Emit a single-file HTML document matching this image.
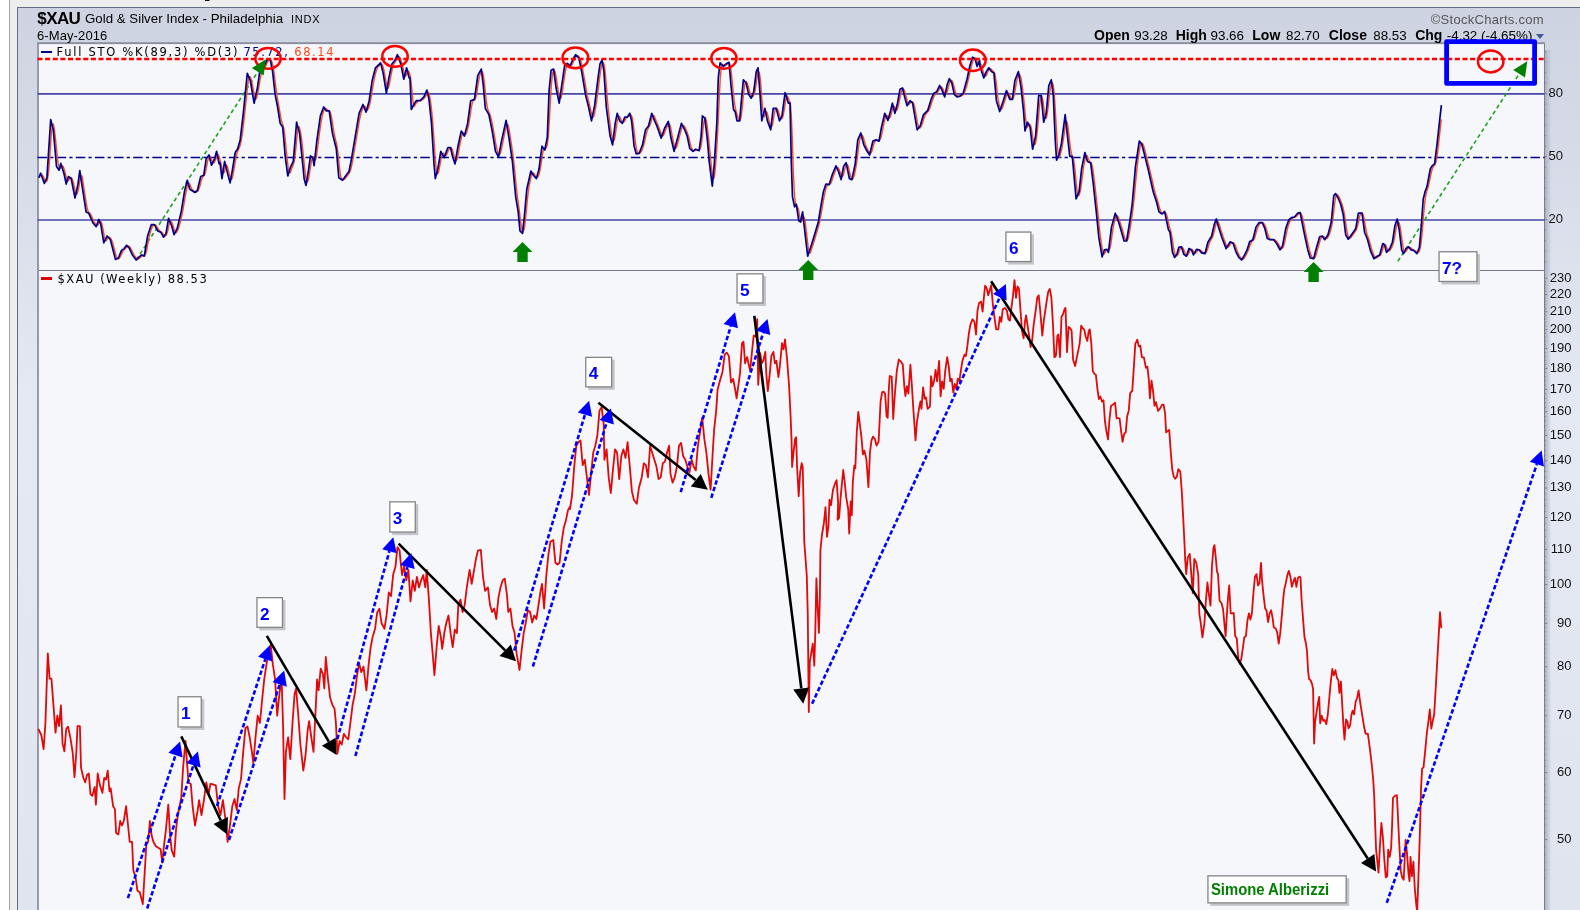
<!DOCTYPE html>
<html><head><meta charset="utf-8"><title>$XAU Gold &amp; Silver Index</title>
<style>
html,body{margin:0;padding:0;background:#fff}
body{width:1580px;height:910px;overflow:hidden;position:relative;font-family:"Liberation Sans",sans-serif;color:#000}
#c{position:absolute;left:0;top:0;width:1580px;height:910px;overflow:hidden;will-change:transform}
.t{position:absolute;white-space:nowrap;line-height:1}
.bx{position:absolute;box-sizing:border-box;background:#fff;border:1px solid #8a8a8a;box-shadow:2.5px 2.5px 0 #c2c3c8;color:#0000ff;font-weight:bold;font-size:17px;line-height:1;padding:5px 0 0 4px}
.ax{position:absolute;right:8.5px;width:40px;text-align:right;font-size:13px;color:#1a1a1a;line-height:15px;height:15px;color:#111}
.dj{font-family:"DejaVu Sans","Liberation Sans",sans-serif}
b{font-weight:bold}
.o{top:28px}
.o.b{font-weight:bold;font-size:14px}
.o.v{font-size:13.4px;top:28.5px}
</style></head><body><div id="c">
<svg width="1580" height="910" viewBox="0 0 1580 910" style="position:absolute;left:0;top:0">
<defs>
<linearGradient id="bg" x1="0" y1="0" x2="0" y2="1"><stop offset="0" stop-color="#cdd3e0"/><stop offset="0.43" stop-color="#e5e9f3"/><stop offset="1" stop-color="#e0e4ef"/></linearGradient>
<linearGradient id="sh" x1="0" y1="0" x2="1" y2="0"><stop offset="0" stop-color="#9ea3b6" stop-opacity=".75"/><stop offset="1" stop-color="#9ea3b6" stop-opacity="0"/></linearGradient>
<clipPath id="cp"><rect x="37.5" y="43" width="1506.8" height="870"/></clipPath>
</defs>
<rect x="0" y="0" width="1580" height="910" fill="#fff"/>
<rect x="10" y="0" width="1570" height="910" fill="#eeeeee"/>
<rect x="9" y="0" width="1" height="910" fill="#a3a3a3"/>
<rect x="205" y="0" width="4.5" height="1" fill="#111"/>
<rect x="17.5" y="7.5" width="1570" height="920" fill="url(#bg)" stroke="#666c82" stroke-width="1"/>
<rect x="1545.0" y="50" width="6.5" height="870" fill="url(#sh)"/>
<rect x="37.5" y="43.5" width="1507.0" height="900" fill="#f5f7fb" stroke="#7a7f92" stroke-width="1"/>
<line x1="37.5" y1="270.5" x2="1544.5" y2="270.5" stroke="#74788a" stroke-width="1.2"/>
<rect x="37" y="43" width="2" height="870" fill="#9699ab"/>
<rect x="37" y="42.2" width="1508" height="1.9" fill="#8b8e9f"/>
<line x1="1544.5" y1="261.7" x2="1545.9" y2="261.7" stroke="#767b90" stroke-width="0.9"/>
<line x1="1544.5" y1="251.2" x2="1545.9" y2="251.2" stroke="#767b90" stroke-width="0.9"/>
<line x1="1544.5" y1="240.7" x2="1545.9" y2="240.7" stroke="#767b90" stroke-width="0.9"/>
<line x1="1544.5" y1="230.2" x2="1545.9" y2="230.2" stroke="#767b90" stroke-width="0.9"/>
<line x1="1544.5" y1="219.7" x2="1547.3" y2="219.7" stroke="#767b90" stroke-width="0.9"/>
<line x1="1544.5" y1="209.2" x2="1545.9" y2="209.2" stroke="#767b90" stroke-width="0.9"/>
<line x1="1544.5" y1="198.7" x2="1545.9" y2="198.7" stroke="#767b90" stroke-width="0.9"/>
<line x1="1544.5" y1="188.2" x2="1545.9" y2="188.2" stroke="#767b90" stroke-width="0.9"/>
<line x1="1544.5" y1="177.7" x2="1545.9" y2="177.7" stroke="#767b90" stroke-width="0.9"/>
<line x1="1544.5" y1="167.2" x2="1545.9" y2="167.2" stroke="#767b90" stroke-width="0.9"/>
<line x1="1544.5" y1="156.7" x2="1547.3" y2="156.7" stroke="#767b90" stroke-width="0.9"/>
<line x1="1544.5" y1="146.2" x2="1545.9" y2="146.2" stroke="#767b90" stroke-width="0.9"/>
<line x1="1544.5" y1="135.7" x2="1545.9" y2="135.7" stroke="#767b90" stroke-width="0.9"/>
<line x1="1544.5" y1="125.2" x2="1545.9" y2="125.2" stroke="#767b90" stroke-width="0.9"/>
<line x1="1544.5" y1="114.7" x2="1545.9" y2="114.7" stroke="#767b90" stroke-width="0.9"/>
<line x1="1544.5" y1="104.2" x2="1545.9" y2="104.2" stroke="#767b90" stroke-width="0.9"/>
<line x1="1544.5" y1="93.7" x2="1547.3" y2="93.7" stroke="#767b90" stroke-width="0.9"/>
<line x1="1544.5" y1="83.2" x2="1545.9" y2="83.2" stroke="#767b90" stroke-width="0.9"/>
<line x1="1544.5" y1="72.7" x2="1545.9" y2="72.7" stroke="#767b90" stroke-width="0.9"/>
<line x1="1544.5" y1="62.2" x2="1545.9" y2="62.2" stroke="#767b90" stroke-width="0.9"/>
<line x1="1544.5" y1="51.7" x2="1545.9" y2="51.7" stroke="#767b90" stroke-width="0.9"/>
<line x1="1544.5" y1="878.3" x2="1545.9" y2="878.3" stroke="#767b90" stroke-width="0.9"/>
<line x1="1544.5" y1="870.2" x2="1545.7" y2="870.2" stroke="#767b90" stroke-width="0.9"/>
<line x1="1544.5" y1="862.3" x2="1545.7" y2="862.3" stroke="#767b90" stroke-width="0.9"/>
<line x1="1544.5" y1="854.6" x2="1545.7" y2="854.6" stroke="#767b90" stroke-width="0.9"/>
<line x1="1544.5" y1="847.0" x2="1545.7" y2="847.0" stroke="#767b90" stroke-width="0.9"/>
<line x1="1544.5" y1="839.5" x2="1547.3" y2="839.5" stroke="#767b90" stroke-width="0.9"/>
<line x1="1544.5" y1="832.3" x2="1545.7" y2="832.3" stroke="#767b90" stroke-width="0.9"/>
<line x1="1544.5" y1="825.1" x2="1545.7" y2="825.1" stroke="#767b90" stroke-width="0.9"/>
<line x1="1544.5" y1="818.1" x2="1545.7" y2="818.1" stroke="#767b90" stroke-width="0.9"/>
<line x1="1544.5" y1="811.2" x2="1545.7" y2="811.2" stroke="#767b90" stroke-width="0.9"/>
<line x1="1544.5" y1="804.5" x2="1545.9" y2="804.5" stroke="#767b90" stroke-width="0.9"/>
<line x1="1544.5" y1="797.9" x2="1545.7" y2="797.9" stroke="#767b90" stroke-width="0.9"/>
<line x1="1544.5" y1="791.3" x2="1545.7" y2="791.3" stroke="#767b90" stroke-width="0.9"/>
<line x1="1544.5" y1="785.0" x2="1545.7" y2="785.0" stroke="#767b90" stroke-width="0.9"/>
<line x1="1544.5" y1="778.7" x2="1545.7" y2="778.7" stroke="#767b90" stroke-width="0.9"/>
<line x1="1544.5" y1="772.5" x2="1547.3" y2="772.5" stroke="#767b90" stroke-width="0.9"/>
<line x1="1544.5" y1="766.4" x2="1545.7" y2="766.4" stroke="#767b90" stroke-width="0.9"/>
<line x1="1544.5" y1="760.4" x2="1545.7" y2="760.4" stroke="#767b90" stroke-width="0.9"/>
<line x1="1544.5" y1="754.5" x2="1545.7" y2="754.5" stroke="#767b90" stroke-width="0.9"/>
<line x1="1544.5" y1="748.7" x2="1545.7" y2="748.7" stroke="#767b90" stroke-width="0.9"/>
<line x1="1544.5" y1="743.0" x2="1545.9" y2="743.0" stroke="#767b90" stroke-width="0.9"/>
<line x1="1544.5" y1="737.4" x2="1545.7" y2="737.4" stroke="#767b90" stroke-width="0.9"/>
<line x1="1544.5" y1="731.9" x2="1545.7" y2="731.9" stroke="#767b90" stroke-width="0.9"/>
<line x1="1544.5" y1="726.4" x2="1545.7" y2="726.4" stroke="#767b90" stroke-width="0.9"/>
<line x1="1544.5" y1="721.1" x2="1545.7" y2="721.1" stroke="#767b90" stroke-width="0.9"/>
<line x1="1544.5" y1="715.8" x2="1547.3" y2="715.8" stroke="#767b90" stroke-width="0.9"/>
<line x1="1544.5" y1="710.6" x2="1545.7" y2="710.6" stroke="#767b90" stroke-width="0.9"/>
<line x1="1544.5" y1="705.4" x2="1545.7" y2="705.4" stroke="#767b90" stroke-width="0.9"/>
<line x1="1544.5" y1="700.4" x2="1545.7" y2="700.4" stroke="#767b90" stroke-width="0.9"/>
<line x1="1544.5" y1="695.3" x2="1545.7" y2="695.3" stroke="#767b90" stroke-width="0.9"/>
<line x1="1544.5" y1="690.4" x2="1545.9" y2="690.4" stroke="#767b90" stroke-width="0.9"/>
<line x1="1544.5" y1="685.5" x2="1545.7" y2="685.5" stroke="#767b90" stroke-width="0.9"/>
<line x1="1544.5" y1="680.7" x2="1545.7" y2="680.7" stroke="#767b90" stroke-width="0.9"/>
<line x1="1544.5" y1="676.0" x2="1545.7" y2="676.0" stroke="#767b90" stroke-width="0.9"/>
<line x1="1544.5" y1="671.3" x2="1545.7" y2="671.3" stroke="#767b90" stroke-width="0.9"/>
<line x1="1544.5" y1="666.7" x2="1547.3" y2="666.7" stroke="#767b90" stroke-width="0.9"/>
<line x1="1544.5" y1="662.1" x2="1545.7" y2="662.1" stroke="#767b90" stroke-width="0.9"/>
<line x1="1544.5" y1="657.6" x2="1545.7" y2="657.6" stroke="#767b90" stroke-width="0.9"/>
<line x1="1544.5" y1="653.1" x2="1545.7" y2="653.1" stroke="#767b90" stroke-width="0.9"/>
<line x1="1544.5" y1="648.7" x2="1545.7" y2="648.7" stroke="#767b90" stroke-width="0.9"/>
<line x1="1544.5" y1="644.4" x2="1545.9" y2="644.4" stroke="#767b90" stroke-width="0.9"/>
<line x1="1544.5" y1="640.1" x2="1545.7" y2="640.1" stroke="#767b90" stroke-width="0.9"/>
<line x1="1544.5" y1="635.8" x2="1545.7" y2="635.8" stroke="#767b90" stroke-width="0.9"/>
<line x1="1544.5" y1="631.6" x2="1545.7" y2="631.6" stroke="#767b90" stroke-width="0.9"/>
<line x1="1544.5" y1="627.5" x2="1545.7" y2="627.5" stroke="#767b90" stroke-width="0.9"/>
<line x1="1544.5" y1="623.4" x2="1547.3" y2="623.4" stroke="#767b90" stroke-width="0.9"/>
<line x1="1544.5" y1="619.3" x2="1545.7" y2="619.3" stroke="#767b90" stroke-width="0.9"/>
<line x1="1544.5" y1="615.3" x2="1545.7" y2="615.3" stroke="#767b90" stroke-width="0.9"/>
<line x1="1544.5" y1="611.3" x2="1545.7" y2="611.3" stroke="#767b90" stroke-width="0.9"/>
<line x1="1544.5" y1="607.4" x2="1545.7" y2="607.4" stroke="#767b90" stroke-width="0.9"/>
<line x1="1544.5" y1="603.5" x2="1545.9" y2="603.5" stroke="#767b90" stroke-width="0.9"/>
<line x1="1544.5" y1="599.6" x2="1545.7" y2="599.6" stroke="#767b90" stroke-width="0.9"/>
<line x1="1544.5" y1="595.8" x2="1545.7" y2="595.8" stroke="#767b90" stroke-width="0.9"/>
<line x1="1544.5" y1="592.0" x2="1545.7" y2="592.0" stroke="#767b90" stroke-width="0.9"/>
<line x1="1544.5" y1="588.3" x2="1545.7" y2="588.3" stroke="#767b90" stroke-width="0.9"/>
<line x1="1544.5" y1="584.6" x2="1547.3" y2="584.6" stroke="#767b90" stroke-width="0.9"/>
<line x1="1544.5" y1="577.3" x2="1545.9" y2="577.3" stroke="#767b90" stroke-width="0.9"/>
<line x1="1544.5" y1="570.2" x2="1545.9" y2="570.2" stroke="#767b90" stroke-width="0.9"/>
<line x1="1544.5" y1="563.2" x2="1545.9" y2="563.2" stroke="#767b90" stroke-width="0.9"/>
<line x1="1544.5" y1="556.3" x2="1545.9" y2="556.3" stroke="#767b90" stroke-width="0.9"/>
<line x1="1544.5" y1="549.5" x2="1547.3" y2="549.5" stroke="#767b90" stroke-width="0.9"/>
<line x1="1544.5" y1="542.9" x2="1545.9" y2="542.9" stroke="#767b90" stroke-width="0.9"/>
<line x1="1544.5" y1="536.4" x2="1545.9" y2="536.4" stroke="#767b90" stroke-width="0.9"/>
<line x1="1544.5" y1="530.0" x2="1545.9" y2="530.0" stroke="#767b90" stroke-width="0.9"/>
<line x1="1544.5" y1="523.7" x2="1545.9" y2="523.7" stroke="#767b90" stroke-width="0.9"/>
<line x1="1544.5" y1="517.5" x2="1547.3" y2="517.5" stroke="#767b90" stroke-width="0.9"/>
<line x1="1544.5" y1="511.5" x2="1545.9" y2="511.5" stroke="#767b90" stroke-width="0.9"/>
<line x1="1544.5" y1="505.5" x2="1545.9" y2="505.5" stroke="#767b90" stroke-width="0.9"/>
<line x1="1544.5" y1="499.6" x2="1545.9" y2="499.6" stroke="#767b90" stroke-width="0.9"/>
<line x1="1544.5" y1="493.8" x2="1545.9" y2="493.8" stroke="#767b90" stroke-width="0.9"/>
<line x1="1544.5" y1="488.1" x2="1547.3" y2="488.1" stroke="#767b90" stroke-width="0.9"/>
<line x1="1544.5" y1="482.5" x2="1545.9" y2="482.5" stroke="#767b90" stroke-width="0.9"/>
<line x1="1544.5" y1="477.0" x2="1545.9" y2="477.0" stroke="#767b90" stroke-width="0.9"/>
<line x1="1544.5" y1="471.5" x2="1545.9" y2="471.5" stroke="#767b90" stroke-width="0.9"/>
<line x1="1544.5" y1="466.1" x2="1545.9" y2="466.1" stroke="#767b90" stroke-width="0.9"/>
<line x1="1544.5" y1="460.8" x2="1547.3" y2="460.8" stroke="#767b90" stroke-width="0.9"/>
<line x1="1544.5" y1="455.6" x2="1545.9" y2="455.6" stroke="#767b90" stroke-width="0.9"/>
<line x1="1544.5" y1="450.5" x2="1545.9" y2="450.5" stroke="#767b90" stroke-width="0.9"/>
<line x1="1544.5" y1="445.4" x2="1545.9" y2="445.4" stroke="#767b90" stroke-width="0.9"/>
<line x1="1544.5" y1="440.4" x2="1545.9" y2="440.4" stroke="#767b90" stroke-width="0.9"/>
<line x1="1544.5" y1="435.5" x2="1547.3" y2="435.5" stroke="#767b90" stroke-width="0.9"/>
<line x1="1544.5" y1="430.6" x2="1545.9" y2="430.6" stroke="#767b90" stroke-width="0.9"/>
<line x1="1544.5" y1="425.8" x2="1545.9" y2="425.8" stroke="#767b90" stroke-width="0.9"/>
<line x1="1544.5" y1="421.0" x2="1545.9" y2="421.0" stroke="#767b90" stroke-width="0.9"/>
<line x1="1544.5" y1="416.4" x2="1545.9" y2="416.4" stroke="#767b90" stroke-width="0.9"/>
<line x1="1544.5" y1="411.7" x2="1547.3" y2="411.7" stroke="#767b90" stroke-width="0.9"/>
<line x1="1544.5" y1="407.2" x2="1545.9" y2="407.2" stroke="#767b90" stroke-width="0.9"/>
<line x1="1544.5" y1="402.7" x2="1545.9" y2="402.7" stroke="#767b90" stroke-width="0.9"/>
<line x1="1544.5" y1="398.2" x2="1545.9" y2="398.2" stroke="#767b90" stroke-width="0.9"/>
<line x1="1544.5" y1="393.8" x2="1545.9" y2="393.8" stroke="#767b90" stroke-width="0.9"/>
<line x1="1544.5" y1="389.4" x2="1547.3" y2="389.4" stroke="#767b90" stroke-width="0.9"/>
<line x1="1544.5" y1="385.1" x2="1545.9" y2="385.1" stroke="#767b90" stroke-width="0.9"/>
<line x1="1544.5" y1="380.9" x2="1545.9" y2="380.9" stroke="#767b90" stroke-width="0.9"/>
<line x1="1544.5" y1="376.7" x2="1545.9" y2="376.7" stroke="#767b90" stroke-width="0.9"/>
<line x1="1544.5" y1="372.5" x2="1545.9" y2="372.5" stroke="#767b90" stroke-width="0.9"/>
<line x1="1544.5" y1="368.4" x2="1547.3" y2="368.4" stroke="#767b90" stroke-width="0.9"/>
<line x1="1544.5" y1="364.3" x2="1545.9" y2="364.3" stroke="#767b90" stroke-width="0.9"/>
<line x1="1544.5" y1="360.3" x2="1545.9" y2="360.3" stroke="#767b90" stroke-width="0.9"/>
<line x1="1544.5" y1="356.4" x2="1545.9" y2="356.4" stroke="#767b90" stroke-width="0.9"/>
<line x1="1544.5" y1="352.4" x2="1545.9" y2="352.4" stroke="#767b90" stroke-width="0.9"/>
<line x1="1544.5" y1="348.5" x2="1547.3" y2="348.5" stroke="#767b90" stroke-width="0.9"/>
<line x1="1544.5" y1="344.7" x2="1545.9" y2="344.7" stroke="#767b90" stroke-width="0.9"/>
<line x1="1544.5" y1="340.9" x2="1545.9" y2="340.9" stroke="#767b90" stroke-width="0.9"/>
<line x1="1544.5" y1="337.1" x2="1545.9" y2="337.1" stroke="#767b90" stroke-width="0.9"/>
<line x1="1544.5" y1="333.4" x2="1545.9" y2="333.4" stroke="#767b90" stroke-width="0.9"/>
<line x1="1544.5" y1="329.7" x2="1547.3" y2="329.7" stroke="#767b90" stroke-width="0.9"/>
<line x1="1544.5" y1="326.0" x2="1545.9" y2="326.0" stroke="#767b90" stroke-width="0.9"/>
<line x1="1544.5" y1="322.4" x2="1545.9" y2="322.4" stroke="#767b90" stroke-width="0.9"/>
<line x1="1544.5" y1="318.8" x2="1545.9" y2="318.8" stroke="#767b90" stroke-width="0.9"/>
<line x1="1544.5" y1="315.2" x2="1545.9" y2="315.2" stroke="#767b90" stroke-width="0.9"/>
<line x1="1544.5" y1="311.7" x2="1547.3" y2="311.7" stroke="#767b90" stroke-width="0.9"/>
<line x1="1544.5" y1="308.2" x2="1545.9" y2="308.2" stroke="#767b90" stroke-width="0.9"/>
<line x1="1544.5" y1="304.8" x2="1545.9" y2="304.8" stroke="#767b90" stroke-width="0.9"/>
<line x1="1544.5" y1="301.4" x2="1545.9" y2="301.4" stroke="#767b90" stroke-width="0.9"/>
<line x1="1544.5" y1="298.0" x2="1545.9" y2="298.0" stroke="#767b90" stroke-width="0.9"/>
<line x1="1544.5" y1="294.6" x2="1547.3" y2="294.6" stroke="#767b90" stroke-width="0.9"/>
<line x1="1544.5" y1="291.3" x2="1545.9" y2="291.3" stroke="#767b90" stroke-width="0.9"/>
<line x1="1544.5" y1="288.0" x2="1545.9" y2="288.0" stroke="#767b90" stroke-width="0.9"/>
<line x1="1544.5" y1="284.7" x2="1545.9" y2="284.7" stroke="#767b90" stroke-width="0.9"/>
<line x1="1544.5" y1="281.5" x2="1545.9" y2="281.5" stroke="#767b90" stroke-width="0.9"/>
<line x1="1544.5" y1="278.3" x2="1547.3" y2="278.3" stroke="#767b90" stroke-width="0.9"/>
<line x1="37.5" y1="93.9" x2="1544.5" y2="93.9" stroke="#4646a6" stroke-width="1.6"/>
<line x1="37.5" y1="220" x2="1544.5" y2="220" stroke="#4646a6" stroke-width="1.6"/>
<line x1="37.5" y1="157.5" x2="1544.5" y2="157.5" stroke="#00008b" stroke-width="1.4" stroke-dasharray="9.5 3.2 3.2 3.24"/>
<text id="l1" y="56.3" font-family="DejaVu Sans, Liberation Sans, sans-serif" font-size="11.5" fill="#000"><tspan x="56.5" letter-spacing="1.72">Full STO %K(89,3) %D(3)</tspan> <tspan x="243.4" letter-spacing="1.58" fill="#00008b">75.72,</tspan> <tspan x="294.3" letter-spacing="1.58" fill="#ff4a1a">68.14</tspan></text>
<text id="l2" x="57.5" y="283.1" font-family="DejaVu Sans, Liberation Sans, sans-serif" font-size="11.5" letter-spacing="1.5" fill="#000">$XAU (Weekly) 88.53</text>
<line x1="136.2" y1="260" x2="257.8" y2="71.8" stroke="#22a022" stroke-width="1.6" stroke-dasharray="4 3"/>
<line x1="1397.9" y1="261.2" x2="1519.2" y2="73.8" stroke="#22a022" stroke-width="1.6" stroke-dasharray="4 3"/>
<polyline points="39.3,177.8 40.3,175.2 41.3,173.7 42.3,175.1 43.3,176.4 44.3,179.1 45.3,181.1 46.3,181.5 47.3,180.3 48.3,174.1 49.3,163.6 50.3,148.7 51.3,134.0 52.3,125.8 53.3,123.9 54.3,129.1 55.3,136.8 56.3,147.0 57.3,157.4 58.3,164.5 59.3,168.3 60.3,168.5 61.3,166.9 62.3,165.8 63.3,166.6 64.3,169.8 65.3,173.4 66.3,177.5 67.3,180.5 68.3,180.9 69.3,179.1 70.3,177.6 71.3,177.5 72.3,179.2 73.3,182.2 74.3,186.8 75.3,191.9 76.3,194.4 77.3,193.6 78.3,189.7 79.3,184.3 80.3,178.0 81.3,175.4 82.3,177.3 83.3,183.9 84.3,190.5 85.3,197.0 86.3,203.5 87.3,208.6 88.3,211.7 89.3,212.8 90.3,213.9 91.3,215.7 92.3,217.9 93.3,220.2 94.3,222.2 95.3,223.8 96.3,225.1 97.3,225.4 98.3,224.5 99.3,222.2 100.3,221.3 101.3,222.1 102.3,225.8 103.3,230.7 104.3,236.7 105.3,240.1 106.3,240.7 107.3,238.7 108.3,237.4 109.3,237.1 110.3,237.9 111.3,239.4 112.3,241.8 113.3,245.1 114.3,249.0 115.3,252.9 116.3,256.3 117.3,258.3 118.3,258.9 119.3,258.1 120.3,256.8 121.3,254.7 122.3,252.4 123.3,250.6 124.3,249.5 125.3,248.7 126.3,247.6 127.3,246.5 128.3,246.1 129.3,246.5 130.3,247.8 131.3,249.4 132.3,251.5 133.3,253.5 134.3,255.3 135.3,256.8 136.3,258.1 137.3,259.0 138.3,259.1 139.3,258.3 140.3,257.4 141.3,256.5 142.3,255.7 143.3,255.3 144.3,255.4 145.3,254.8 146.3,252.0 147.3,247.0 148.3,241.1 149.3,236.2 150.3,232.4 151.3,229.4 152.3,226.8 153.3,225.2 154.3,224.6 155.3,224.9 156.3,225.7 157.3,227.3 158.3,229.1 159.3,230.5 160.3,231.4 161.3,231.9 162.3,232.8 163.3,234.2 164.3,235.6 165.3,236.0 166.3,235.2 167.3,232.6 168.3,228.5 169.3,223.5 170.3,221.0 171.3,221.3 172.3,223.9 173.3,226.8 174.3,230.1 175.3,232.3 176.3,232.7 177.3,231.2 178.3,228.8 179.3,225.6 180.3,221.8 181.3,217.7 182.3,213.1 183.3,207.9 184.3,202.1 185.3,196.0 186.3,190.7 187.3,186.1 188.3,183.5 189.3,183.3 190.3,185.6 191.3,188.2 192.3,189.8 193.3,190.5 194.3,191.1 195.3,191.8 196.3,192.0 197.3,191.7 198.3,190.5 199.3,188.0 200.3,184.5 201.3,180.4 202.3,177.6 203.3,176.1 204.3,175.5 205.3,172.8 206.3,168.0 207.3,162.5 208.3,158.7 209.3,156.6 210.3,156.7 211.3,158.6 212.3,161.7 213.3,163.1 214.3,162.5 215.3,160.3 216.3,157.6 217.3,154.9 218.3,154.7 219.3,157.3 220.3,160.9 221.3,164.8 222.3,169.6 223.3,173.1 224.3,172.3 225.3,167.4 226.3,165.0 227.3,166.2 228.3,170.2 229.3,174.1 230.3,178.0 231.3,179.6 232.3,178.1 233.3,173.4 234.3,167.5 235.3,161.4 236.3,156.0 237.3,152.2 238.3,150.0 239.3,147.7 240.3,144.8 241.3,140.3 242.3,134.1 243.3,126.2 244.3,117.4 245.3,108.1 246.3,98.3 247.3,88.4 248.3,80.4 249.3,76.6 250.3,77.0 251.3,79.9 252.3,84.1 253.3,89.5 254.3,95.4 255.3,98.9 256.3,98.9 257.3,95.4 258.3,90.4 259.3,84.7 260.3,78.1 261.3,72.9 262.3,69.9 263.3,69.0 264.3,68.1 265.3,66.7 266.3,64.8 267.3,62.5 268.3,60.8 269.3,59.8 270.3,59.5 271.3,60.4 272.3,63.1 273.3,67.8 274.3,74.5 275.3,82.5 276.3,90.7 277.3,97.5 278.3,103.1 279.3,108.6 280.3,114.6 281.3,119.9 282.3,123.7 283.3,126.2 284.3,131.4 285.3,140.0 286.3,150.8 287.3,160.3 288.3,168.4 289.3,172.4 290.3,172.7 291.3,169.6 292.3,166.9 293.3,164.5 294.3,160.8 295.3,153.8 296.3,143.6 297.3,132.7 298.3,127.1 299.3,126.8 300.3,131.0 301.3,137.1 302.3,145.2 303.3,155.0 304.3,165.0 305.3,173.7 306.3,180.3 307.3,182.1 308.3,179.9 309.3,174.3 310.3,167.8 311.3,161.6 312.3,157.9 313.3,156.8 314.3,159.4 315.3,160.3 316.3,157.8 317.3,150.2 318.3,141.8 319.3,134.1 320.3,127.1 321.3,120.7 322.3,115.7 323.3,112.1 324.3,109.6 325.3,108.4 326.3,108.7 327.3,109.9 328.3,110.6 329.3,110.8 330.3,112.2 331.3,115.9 332.3,121.9 333.3,128.5 334.3,134.1 335.3,138.8 336.3,142.7 337.3,148.0 338.3,155.8 339.3,166.2 340.3,174.1 341.3,178.5 342.3,179.1 343.3,179.6 344.3,179.4 345.3,178.5 346.3,177.1 347.3,175.7 348.3,174.4 349.3,173.1 350.3,170.8 351.3,167.2 352.3,162.3 353.3,156.8 354.3,151.0 355.3,145.1 356.3,139.1 357.3,133.1 358.3,127.1 359.3,121.1 360.3,116.0 361.3,112.0 362.3,109.4 363.3,107.0 364.3,106.1 365.3,106.8 366.3,109.0 367.3,110.0 368.3,108.9 369.3,105.8 370.3,101.6 371.3,96.3 372.3,89.9 373.3,83.8 374.3,78.6 375.3,74.3 376.3,70.8 377.3,68.2 378.3,66.5 379.3,65.5 380.3,64.6 381.3,63.9 382.3,64.9 383.3,67.6 384.3,72.2 385.3,77.4 386.3,83.3 387.3,87.8 388.3,88.2 389.3,84.6 390.3,78.9 391.3,73.8 392.3,69.1 393.3,65.5 394.3,63.0 395.3,61.7 396.3,60.2 397.3,58.4 398.3,56.7 399.3,56.7 400.3,58.4 401.3,61.2 402.3,64.7 403.3,69.1 404.3,74.1 405.3,76.2 406.3,75.1 407.3,71.6 408.3,70.8 409.3,72.6 410.3,75.7 411.3,84.0 412.3,94.6 413.3,104.1 414.3,106.5 415.3,104.7 416.3,103.0 417.3,101.7 418.3,101.0 419.3,100.7 420.3,100.7 421.3,100.5 422.3,99.9 423.3,99.0 424.3,98.0 425.3,96.6 426.3,94.8 427.3,92.6 428.3,92.3 429.3,94.3 430.3,99.9 431.3,107.4 432.3,117.3 433.3,129.8 434.3,144.5 435.3,159.4 436.3,170.1 437.3,174.2 438.3,172.8 439.3,168.3 440.3,163.1 441.3,157.2 442.3,153.9 443.3,153.2 444.3,155.1 445.3,156.0 446.3,155.3 447.3,153.1 448.3,150.4 449.3,148.6 450.3,147.6 451.3,147.9 452.3,149.8 453.3,153.1 454.3,156.9 455.3,160.3 456.3,160.9 457.3,158.6 458.3,153.3 459.3,147.7 460.3,142.6 461.3,137.9 462.3,134.3 463.3,132.9 464.3,133.5 465.3,134.4 466.3,133.4 467.3,130.5 468.3,126.4 469.3,121.0 470.3,114.6 471.3,107.5 472.3,102.8 473.3,100.3 474.3,100.0 475.3,98.9 476.3,95.6 477.3,89.9 478.3,82.7 479.3,77.2 480.3,73.6 481.3,71.8 482.3,71.7 483.3,74.9 484.3,81.9 485.3,91.7 486.3,101.0 487.3,107.6 488.3,110.9 489.3,112.7 490.3,115.4 491.3,119.2 492.3,124.0 493.3,129.2 494.3,134.8 495.3,140.8 496.3,146.6 497.3,150.8 498.3,153.7 499.3,154.8 500.3,153.6 501.3,150.0 502.3,144.8 503.3,139.9 504.3,135.2 505.3,130.8 506.3,126.3 507.3,124.2 508.3,125.7 509.3,130.7 510.3,137.0 511.3,143.5 512.3,150.3 513.3,157.8 514.3,166.5 515.3,176.4 516.3,187.0 517.3,196.0 518.3,203.4 519.3,210.4 520.3,218.8 521.3,226.2 522.3,231.1 523.3,231.7 524.3,228.3 525.3,221.2 526.3,211.1 527.3,200.3 528.3,191.4 529.3,184.8 530.3,180.3 531.3,175.9 532.3,173.3 533.3,172.8 534.3,174.2 535.3,175.6 536.3,176.8 537.3,177.3 538.3,176.2 539.3,173.4 540.3,168.7 541.3,162.7 542.3,155.3 543.3,150.1 544.3,147.9 545.3,148.6 546.3,147.9 547.3,144.9 548.3,136.4 549.3,120.9 550.3,102.1 551.3,85.1 552.3,75.6 553.3,70.9 554.3,70.0 555.3,72.8 556.3,78.2 557.3,85.1 558.3,91.2 559.3,96.3 560.3,98.8 561.3,97.4 562.3,91.9 563.3,84.9 564.3,78.1 565.3,71.6 566.3,67.0 567.3,64.5 568.3,64.0 569.3,64.3 570.3,65.2 571.3,65.3 572.3,64.2 573.3,62.0 574.3,59.8 575.3,57.9 576.3,56.3 577.3,55.7 578.3,56.0 579.3,57.0 580.3,59.2 581.3,62.7 582.3,67.5 583.3,72.7 584.3,78.3 585.3,84.2 586.3,90.2 587.3,95.4 588.3,99.9 589.3,103.9 590.3,108.2 591.3,112.8 592.3,116.6 593.3,117.2 594.3,114.5 595.3,109.4 596.3,103.3 597.3,96.1 598.3,88.2 599.3,80.3 600.3,72.7 601.3,66.8 602.3,62.8 603.3,62.6 604.3,65.2 605.3,73.3 606.3,85.0 607.3,98.5 608.3,109.7 609.3,118.5 610.3,126.1 611.3,132.8 612.3,138.2 613.3,141.3 614.3,140.1 615.3,135.0 616.3,127.4 617.3,120.8 618.3,116.9 619.3,116.2 620.3,118.1 621.3,120.4 622.3,122.0 623.3,122.3 624.3,121.6 625.3,119.6 626.3,117.9 627.3,117.1 628.3,116.8 629.3,116.1 630.3,114.8 631.3,115.2 632.3,117.9 633.3,124.5 634.3,133.0 635.3,141.6 636.3,148.1 637.3,151.6 638.3,153.2 639.3,153.5 640.3,152.9 641.3,151.5 642.3,149.2 643.3,146.4 644.3,142.8 645.3,138.4 646.3,133.7 647.3,130.3 648.3,128.2 649.3,126.6 650.3,124.2 651.3,121.0 652.3,117.1 653.3,115.5 654.3,116.0 655.3,118.7 656.3,121.2 657.3,123.5 658.3,125.9 659.3,128.6 660.3,131.3 661.3,134.2 662.3,135.8 663.3,135.6 664.3,133.4 665.3,130.6 666.3,128.2 667.3,126.1 668.3,124.2 669.3,123.7 670.3,126.0 671.3,130.9 672.3,136.6 673.3,141.5 674.3,145.8 675.3,148.2 676.3,147.8 677.3,144.8 678.3,141.0 679.3,137.2 680.3,133.4 681.3,129.5 682.3,126.5 683.3,125.3 684.3,126.1 685.3,128.1 686.3,130.2 687.3,132.6 688.3,135.6 689.3,139.3 690.3,143.9 691.3,147.4 692.3,149.5 693.3,150.3 694.3,150.7 695.3,150.5 696.3,149.9 697.3,149.6 698.3,149.7 699.3,150.1 700.3,148.8 701.3,144.8 702.3,136.4 703.3,126.6 704.3,119.6 705.3,117.3 706.3,120.6 707.3,126.5 708.3,135.3 709.3,145.4 710.3,155.8 711.3,165.7 712.3,174.1 713.3,178.9 714.3,177.4 715.3,168.6 716.3,154.9 717.3,139.6 718.3,118.7 719.3,96.7 720.3,77.4 721.3,67.5 722.3,64.5 723.3,64.7 724.3,65.5 725.3,65.7 726.3,65.1 727.3,64.2 728.3,63.5 729.3,63.0 730.3,65.6 731.3,72.4 732.3,82.6 733.3,93.0 734.3,102.0 735.3,108.0 736.3,112.0 737.3,115.3 738.3,118.5 739.3,120.6 740.3,120.1 741.3,115.6 742.3,107.4 743.3,96.5 744.3,87.5 745.3,82.6 746.3,81.5 747.3,83.4 748.3,86.4 749.3,90.4 750.3,93.7 751.3,96.1 752.3,96.8 753.3,96.1 754.3,93.9 755.3,89.5 756.3,83.3 757.3,76.4 758.3,71.4 759.3,72.2 760.3,78.9 761.3,91.4 762.3,105.7 763.3,114.5 764.3,116.8 765.3,112.8 766.3,111.4 767.3,113.1 768.3,117.6 769.3,121.5 770.3,124.7 771.3,127.0 772.3,125.6 773.3,120.3 774.3,113.5 775.3,109.4 776.3,108.3 777.3,109.1 778.3,111.1 779.3,114.4 780.3,117.6 781.3,118.9 782.3,118.3 783.3,114.8 784.3,109.5 785.3,102.4 786.3,97.4 787.3,95.9 788.3,98.1 789.3,100.8 790.3,102.6 791.3,115.1 792.3,139.5 793.3,171.1 794.3,192.5 795.3,202.6 796.3,204.9 797.3,206.4 798.3,209.0 799.3,214.2 800.3,218.8 801.3,221.1 802.3,219.5 803.3,216.9 804.3,217.3 805.3,222.4 806.3,231.2 807.3,239.8 808.3,248.1 809.3,252.4 810.3,252.9 811.3,249.9 812.3,246.9 813.3,243.7 814.3,240.5 815.3,237.2 816.3,233.8 817.3,230.5 818.3,227.1 819.3,223.3 820.3,218.5 821.3,212.9 822.3,207.0 823.3,201.1 824.3,195.6 825.3,191.0 826.3,187.4 827.3,185.4 828.3,184.3 829.3,184.4 830.3,183.9 831.3,182.2 832.3,179.5 833.3,176.3 834.3,173.5 835.3,171.0 836.3,168.7 837.3,167.6 838.3,168.0 839.3,170.0 840.3,172.6 841.3,175.5 842.3,176.7 843.3,175.1 844.3,170.9 845.3,167.1 846.3,164.6 847.3,164.5 848.3,166.6 849.3,170.8 850.3,175.1 851.3,177.9 852.3,179.2 853.3,178.0 854.3,175.1 855.3,170.6 856.3,164.9 857.3,157.8 858.3,149.1 859.3,142.2 860.3,137.6 861.3,135.3 862.3,135.1 863.3,137.0 864.3,140.9 865.3,144.2 866.3,146.8 867.3,148.8 868.3,150.6 869.3,152.3 870.3,153.4 871.3,152.6 872.3,149.9 873.3,145.7 874.3,142.7 875.3,140.9 876.3,140.4 877.3,140.2 878.3,140.3 879.3,140.6 880.3,139.4 881.3,136.3 882.3,131.2 883.3,126.3 884.3,121.7 885.3,117.5 886.3,115.5 887.3,115.6 888.3,117.9 889.3,118.4 890.3,117.0 891.3,113.6 892.3,109.8 893.3,106.8 894.3,106.5 895.3,108.9 896.3,110.5 897.3,109.5 898.3,105.8 899.3,101.1 900.3,96.0 901.3,91.8 902.3,89.2 903.3,88.8 904.3,90.3 905.3,93.3 906.3,97.2 907.3,101.0 908.3,103.4 909.3,104.0 910.3,102.9 911.3,101.8 912.3,101.7 913.3,102.7 914.3,105.7 915.3,110.2 916.3,116.0 917.3,121.8 918.3,126.1 919.3,128.1 920.3,127.8 921.3,126.1 922.3,123.6 923.3,120.5 924.3,117.3 925.3,114.9 926.3,113.3 927.3,112.3 928.3,111.3 929.3,109.5 930.3,107.0 931.3,103.7 932.3,100.6 933.3,97.9 934.3,95.6 935.3,93.9 936.3,92.9 937.3,92.2 938.3,91.0 939.3,89.4 940.3,87.5 941.3,86.9 942.3,87.7 943.3,89.9 944.3,92.2 945.3,94.4 946.3,94.2 947.3,91.5 948.3,87.0 949.3,83.2 950.3,80.8 951.3,80.3 952.3,81.3 953.3,83.9 954.3,87.6 955.3,91.5 956.3,94.3 957.3,95.8 958.3,96.4 959.3,96.6 960.3,96.4 961.3,95.9 962.3,95.3 963.3,94.4 964.3,92.9 965.3,90.5 966.3,87.2 967.3,83.6 968.3,79.7 969.3,75.4 970.3,70.9 971.3,66.6 972.3,62.9 973.3,59.9 974.3,58.4 975.3,58.1 976.3,59.5 977.3,61.9 978.3,63.9 979.3,64.1 980.3,63.4 981.3,64.8 982.3,68.0 983.3,71.9 984.3,74.9 985.3,76.1 986.3,75.4 987.3,73.0 988.3,71.0 989.3,69.3 990.3,68.8 991.3,69.3 992.3,70.6 993.3,71.6 994.3,72.3 995.3,76.0 996.3,83.3 997.3,93.0 998.3,100.5 999.3,105.3 1000.3,108.4 1001.3,109.4 1002.3,108.3 1003.3,105.2 1004.3,102.2 1005.3,99.1 1006.3,96.0 1007.3,93.4 1008.3,92.8 1009.3,94.1 1010.3,96.7 1011.3,98.5 1012.3,99.4 1013.3,98.4 1014.3,94.9 1015.3,88.8 1016.3,82.8 1017.3,78.4 1018.3,75.7 1019.3,74.2 1020.3,75.6 1021.3,79.8 1022.3,86.6 1023.3,94.7 1024.3,104.5 1025.3,115.7 1026.3,123.8 1027.3,127.1 1028.3,125.2 1029.3,124.0 1030.3,124.7 1031.3,128.2 1032.3,134.0 1033.3,141.3 1034.3,144.8 1035.3,144.0 1036.3,139.0 1037.3,131.2 1038.3,120.4 1039.3,107.8 1040.3,99.5 1041.3,95.6 1042.3,97.7 1043.3,103.4 1044.3,112.2 1045.3,117.6 1046.3,118.3 1047.3,113.3 1048.3,105.9 1049.3,96.2 1050.3,88.3 1051.3,83.3 1052.3,82.7 1053.3,85.5 1054.3,94.2 1055.3,109.5 1056.3,128.4 1057.3,145.9 1058.3,155.2 1059.3,157.4 1060.3,154.5 1061.3,150.9 1062.3,146.0 1063.3,140.0 1064.3,133.0 1065.3,125.3 1066.3,121.1 1067.3,122.6 1068.3,129.6 1069.3,138.7 1070.3,147.6 1071.3,153.4 1072.3,156.3 1073.3,158.2 1074.3,163.8 1075.3,173.1 1076.3,184.3 1077.3,192.3 1078.3,195.8 1079.3,194.8 1080.3,190.8 1081.3,184.7 1082.3,176.5 1083.3,169.1 1084.3,163.0 1085.3,158.0 1086.3,155.5 1087.3,155.9 1088.3,158.7 1089.3,160.9 1090.3,162.1 1091.3,162.9 1092.3,166.2 1093.3,172.0 1094.3,180.3 1095.3,188.9 1096.3,198.0 1097.3,207.4 1098.3,217.1 1099.3,227.1 1100.3,235.8 1101.3,243.2 1102.3,249.1 1103.3,253.0 1104.3,253.9 1105.3,252.1 1106.3,250.4 1107.3,249.6 1108.3,250.1 1109.3,249.9 1110.3,247.1 1111.3,241.0 1112.3,233.3 1113.3,227.1 1114.3,222.3 1115.3,218.7 1116.3,216.1 1117.3,215.6 1118.3,217.2 1119.3,219.9 1120.3,222.9 1121.3,226.1 1122.3,229.5 1123.3,232.9 1124.3,236.4 1125.3,239.1 1126.3,240.6 1127.3,240.6 1128.3,238.1 1129.3,233.6 1130.3,227.5 1131.3,221.0 1132.3,214.2 1133.3,206.3 1134.3,196.8 1135.3,185.9 1136.3,174.9 1137.3,165.5 1138.3,157.7 1139.3,151.1 1140.3,145.7 1141.3,143.0 1142.3,143.0 1143.3,145.1 1144.3,148.0 1145.3,151.9 1146.3,155.8 1147.3,159.8 1148.3,163.8 1149.3,167.9 1150.3,172.2 1151.3,176.6 1152.3,181.0 1153.3,185.5 1154.3,189.6 1155.3,193.4 1156.3,196.6 1157.3,199.8 1158.3,203.2 1159.3,207.1 1160.3,210.2 1161.3,212.2 1162.3,213.2 1163.3,213.4 1164.3,213.1 1165.3,212.6 1166.3,213.9 1167.3,217.1 1168.3,221.9 1169.3,226.3 1170.3,229.6 1171.3,233.6 1172.3,239.1 1173.3,246.2 1174.3,251.8 1175.3,255.2 1176.3,256.1 1177.3,255.6 1178.3,253.6 1179.3,250.8 1180.3,248.5 1181.3,247.1 1182.3,247.3 1183.3,248.7 1184.3,251.1 1185.3,253.4 1186.3,255.0 1187.3,255.3 1188.3,254.3 1189.3,252.1 1190.3,250.1 1191.3,249.2 1192.3,249.7 1193.3,251.1 1194.3,252.7 1195.3,253.3 1196.3,252.5 1197.3,250.9 1198.3,249.9 1199.3,249.7 1200.3,250.1 1201.3,250.8 1202.3,251.9 1203.3,252.7 1204.3,253.2 1205.3,253.4 1206.3,252.5 1207.3,250.1 1208.3,246.5 1209.3,243.3 1210.3,240.9 1211.3,239.2 1212.3,237.4 1213.3,234.7 1214.3,231.0 1215.3,226.8 1216.3,223.3 1217.3,221.4 1218.3,221.9 1219.3,224.5 1220.3,227.9 1221.3,231.1 1222.3,234.1 1223.3,237.1 1224.3,239.9 1225.3,242.5 1226.3,245.2 1227.3,246.8 1228.3,247.0 1229.3,245.8 1230.3,244.1 1231.3,242.9 1232.3,242.4 1233.3,242.7 1234.3,243.8 1235.3,245.6 1236.3,248.2 1237.3,251.0 1238.3,253.4 1239.3,255.5 1240.3,257.1 1241.3,258.3 1242.3,259.1 1243.3,259.0 1244.3,258.0 1245.3,256.2 1246.3,254.4 1247.3,252.5 1248.3,250.2 1249.3,247.5 1250.3,244.6 1251.3,242.4 1252.3,241.0 1253.3,240.4 1254.3,238.7 1255.3,235.9 1256.3,232.0 1257.3,228.6 1258.3,226.1 1259.3,224.4 1260.3,223.3 1261.3,222.7 1262.3,222.6 1263.3,223.0 1264.3,224.1 1265.3,226.1 1266.3,229.0 1267.3,232.4 1268.3,235.9 1269.3,238.1 1270.3,239.2 1271.3,239.5 1272.3,239.7 1273.3,239.7 1274.3,239.7 1275.3,240.2 1276.3,241.1 1277.3,242.4 1278.3,243.9 1279.3,245.6 1280.3,247.6 1281.3,248.6 1282.3,248.5 1283.3,246.8 1284.3,243.6 1285.3,239.1 1286.3,233.8 1287.3,229.3 1288.3,225.6 1289.3,222.8 1290.3,220.6 1291.3,219.1 1292.3,218.3 1293.3,217.7 1294.3,217.4 1295.3,217.0 1296.3,216.4 1297.3,215.4 1298.3,214.3 1299.3,213.5 1300.3,213.0 1301.3,213.9 1302.3,216.5 1303.3,220.9 1304.3,226.1 1305.3,231.1 1306.3,236.0 1307.3,240.7 1308.3,245.3 1309.3,249.4 1310.3,253.1 1311.3,255.9 1312.3,257.6 1313.3,258.3 1314.3,258.3 1315.3,256.9 1316.3,254.1 1317.3,250.4 1318.3,246.7 1319.3,243.2 1320.3,239.9 1321.3,237.6 1322.3,236.4 1323.3,236.5 1324.3,237.1 1325.3,238.3 1326.3,238.6 1327.3,238.0 1328.3,236.5 1329.3,234.4 1330.3,231.5 1331.3,227.8 1332.3,222.8 1333.3,215.6 1334.3,206.1 1335.3,198.7 1336.3,194.7 1337.3,194.8 1338.3,195.8 1339.3,197.6 1340.3,199.8 1341.3,202.2 1342.3,205.2 1343.3,208.8 1344.3,213.7 1345.3,219.9 1346.3,227.2 1347.3,233.0 1348.3,236.6 1349.3,237.8 1350.3,238.0 1351.3,237.1 1352.3,235.7 1353.3,234.2 1354.3,232.8 1355.3,231.3 1356.3,229.9 1357.3,226.9 1358.3,222.6 1359.3,217.5 1360.3,214.4 1361.3,213.2 1362.3,213.2 1363.3,215.1 1364.3,219.5 1365.3,226.0 1366.3,231.4 1367.3,235.2 1368.3,237.8 1369.3,240.8 1370.3,244.3 1371.3,248.0 1372.3,251.2 1373.3,253.9 1374.3,256.2 1375.3,257.6 1376.3,257.9 1377.3,257.3 1378.3,256.6 1379.3,255.9 1380.3,255.3 1381.3,253.6 1382.3,250.9 1383.3,247.2 1384.3,245.0 1385.3,244.6 1386.3,246.6 1387.3,249.2 1388.3,250.9 1389.3,250.9 1390.3,249.8 1391.3,248.2 1392.3,246.2 1393.3,243.2 1394.3,238.8 1395.3,233.1 1396.3,227.6 1397.3,223.3 1398.3,221.8 1399.3,223.3 1400.3,228.0 1401.3,234.8 1402.3,242.4 1403.3,248.3 1404.3,251.8 1405.3,252.1 1406.3,251.0 1407.3,249.4 1408.3,248.1 1409.3,247.5 1410.3,247.6 1411.3,248.3 1412.3,249.3 1413.3,249.9 1414.3,250.3 1415.3,250.8 1416.3,251.6 1417.3,252.6 1418.3,252.5 1419.3,251.3 1420.3,247.7 1421.3,241.1 1422.3,231.1 1423.3,218.4 1424.3,206.8 1425.3,198.2 1426.3,193.1 1427.3,189.9 1428.3,186.4 1429.3,182.1 1430.3,177.0 1431.3,172.3 1432.3,168.7 1433.3,166.6 1434.3,165.4 1435.3,164.1 1436.3,160.3 1437.3,154.2 1438.3,145.9 1439.3,137.2 1440.3,128.2 1441.3,119.3" fill="none" stroke="#ff4a1a" stroke-width="1.4" stroke-linejoin="round"/>
<polyline points="38.8,177.8 40.6,173.2 44.4,183.4 46.9,177.8 50.7,119.6 53.3,129.8 56.5,166.4 59.1,170.2 60.8,163.4 64.1,174.0 66.2,184.1 68.4,176.5 71.2,178.6 75.0,198.0 78.0,184.1 79.8,170.7 82.6,189.2 86.1,211.9 88.7,213.2 93.2,223.3 96.2,226.6 98.8,219.5 100.8,224.6 103.8,242.8 107.1,236.0 110.4,239.7 115.5,259.5 118.5,258.0 121.5,250.4 124.1,248.6 126.6,245.3 129.1,247.8 132.4,254.9 136.2,260.0 139.2,256.9 141.8,254.9 144.3,256.2 147.6,236.0 151.4,224.6 154.4,224.6 157.7,230.9 160.7,232.2 163.5,237.2 166.0,233.4 168.6,218.3 171.6,225.8 174.1,234.7 177.2,228.4 181.2,211.9 184.7,190.4 187.3,180.3 189.8,189.2 194.9,192.5 197.4,190.4 200.7,176.5 203.7,175.3 206.2,158.8 209.0,155.0 211.5,165.2 214.6,158.8 216.6,151.3 219.1,163.9 220.0,162.6 222.0,178.6 224.6,161.4 227.1,171.5 230.1,182.9 232.6,169.0 235.2,152.5 237.7,148.7 240.2,139.9 243.3,113.3 247.3,73.4 250.3,80.5 254.1,103.2 257.4,88.0 259.9,70.3 263.5,67.8 266.8,60.2 270.1,59.0 272.6,71.6 275.1,94.4 277.6,107.0 280.2,123.4 282.7,127.2 285.2,156.3 287.8,176.0 290.3,167.7 293.3,161.4 296.6,122.2 299.6,133.6 302.2,158.8 304.2,179.1 306.0,185.4 308.5,170.2 310.5,155.8 312.8,157.6 314.1,165.7 316.8,141.1 320.4,115.9 323.7,107.0 326.2,110.8 329.2,110.8 332.5,133.6 336.3,148.7 338.8,177.8 342.6,180.3 345.2,176.5 349.0,171.5 351.5,158.8 355.3,136.1 359.1,113.3 362.9,104.5 366.1,112.1 369.2,100.7 372.2,80.5 375.5,67.8 380.6,62.8 383.1,72.9 386.4,93.1 388.9,77.9 391.9,64.0 395.0,60.2 397.5,54.7 400.8,64.0 403.8,79.2 406.6,67.8 409.1,77.9 410.0,77.9 411.3,109.5 413.8,104.5 416.3,100.7 420.1,100.7 423.9,96.9 426.9,90.1 429.0,99.4 431.5,123.4 434.0,163.9 435.3,178.6 437.8,169.0 440.8,151.3 444.1,157.6 447.9,147.5 450.5,147.5 452.5,156.3 455.0,163.9 458.0,146.2 461.3,131.0 464.4,136.1 467.6,123.4 470.7,100.7 474.5,99.4 477.8,75.4 481.3,69.1 483.3,85.5 485.3,108.3 488.9,114.6 492.2,131.0 495.5,151.3 498.5,156.8 501.5,141.1 506.1,120.4 509.1,138.6 512.4,161.4 515.7,196.8 518.2,211.9 520.0,230.9 522.5,233.4 524.3,217.0 526.8,189.2 530.9,171.0 533.4,175.3 536.4,178.6 539.0,169.0 542.0,146.2 544.8,150.0 547.3,137.3 549.1,90.6 551.1,70.3 553.6,69.1 556.1,88.0 559.2,103.2 561.7,85.5 564.7,65.3 567.3,63.3 569.8,66.5 573.1,59.0 575.6,54.7 578.9,58.2 581.9,72.9 585.7,95.6 588.3,105.7 591.5,120.9 594.6,105.7 598.4,75.4 600.0,64.0 602.0,60.2 603.8,70.3 606.3,107.0 610.1,136.1 612.6,144.9 615.2,123.4 617.2,113.3 619.7,120.9 622.3,123.4 624.8,117.1 627.3,117.1 629.8,113.3 631.6,120.9 634.1,146.2 636.2,153.8 639.2,153.3 642.5,144.9 645.5,129.8 648.5,126.0 651.8,113.3 654.4,120.4 656.9,126.0 661.2,138.1 664.5,128.5 668.3,121.4 670.8,137.3 674.1,151.3 677.1,139.9 681.4,123.4 684.7,129.8 687.2,136.1 689.8,148.7 693.0,151.3 695.6,149.2 699.1,150.7 701.1,136.1 702.4,115.9 704.9,118.4 707.5,141.1 709.2,161.4 712.3,186.1 714.3,163.9 716.8,123.4 718.3,77.9 720.1,62.8 723.4,66.5 725.9,64.0 729.0,62.3 731.0,85.5 733.5,109.5 735.3,112.1 737.0,120.9 739.6,120.9 741.6,98.2 743.4,79.9 746.1,83.0 748.7,94.4 751.2,98.2 753.7,91.8 756.3,71.6 758.0,67.8 759.8,90.6 761.8,120.9 764.9,108.3 767.4,120.9 770.7,129.8 773.2,108.3 776.2,108.3 779.5,120.9 782.0,115.9 785.1,92.6 788.4,103.2 790.0,103.2 791.3,161.4 792.5,196.8 794.6,206.9 796.3,204.3 798.8,220.8 800.6,222.0 802.6,211.9 805.2,234.7 807.7,256.2 811.5,244.8 815.3,232.2 818.3,222.0 820.8,206.9 823.4,191.7 825.9,184.1 829.2,184.6 832.5,174.0 836.0,165.9 838.5,171.5 841.1,179.6 843.6,166.4 846.1,162.6 849.4,178.6 851.9,179.6 855.2,163.9 857.8,139.9 860.8,133.0 863.8,144.9 867.1,151.3 869.6,155.0 872.9,141.1 876.0,139.9 879.0,141.1 881.5,127.2 884.8,113.3 887.9,120.4 890.6,110.8 892.4,103.2 894.9,113.3 897.5,103.2 900.0,89.3 902.5,88.0 905.0,98.2 907.1,105.7 910.1,100.7 912.6,103.2 915.2,118.4 917.2,129.8 920.2,126.0 923.5,114.6 927.8,110.3 931.1,99.4 933.6,93.6 936.6,91.8 939.7,85.5 942.2,90.6 944.7,96.9 947.3,84.2 949.3,78.7 951.8,83.0 954.3,94.4 956.9,96.9 959.9,96.1 963.2,93.1 967.0,79.2 970.0,65.3 972.6,57.2 975.1,59.0 977.1,66.5 979.6,60.2 980.0,66.5 983.8,77.9 986.3,71.6 988.8,67.8 991.4,71.6 993.9,72.9 996.4,100.7 999.7,111.6 1003.3,100.7 1006.5,90.6 1009.8,99.4 1012.4,99.4 1014.9,80.5 1018.4,71.6 1021.0,86.8 1023.5,110.8 1025.0,131.0 1027.5,122.2 1030.1,127.2 1032.6,149.2 1035.6,136.1 1038.7,95.6 1041.2,95.6 1043.7,122.2 1046.2,113.3 1048.8,85.5 1051.3,79.9 1053.3,95.6 1055.3,141.1 1056.6,160.1 1058.9,155.0 1061.4,143.7 1065.2,114.6 1067.2,133.6 1069.8,156.3 1072.3,156.3 1074.1,176.5 1076.1,198.8 1079.1,191.7 1081.6,169.0 1084.9,152.5 1087.5,161.4 1090.7,163.1 1093.3,184.1 1096.3,211.9 1098.8,237.2 1102.1,256.9 1104.4,249.9 1106.9,249.4 1108.4,252.4 1111.5,227.1 1115.3,213.2 1118.6,222.0 1121.6,232.2 1124.1,241.0 1126.6,241.0 1129.7,222.0 1132.2,204.3 1135.5,166.4 1139.3,141.1 1141.8,144.2 1144.3,153.8 1148.1,169.0 1153.2,191.7 1156.5,201.8 1159.0,211.9 1162.0,214.0 1164.6,211.4 1168.4,229.6 1170.0,232.2 1172.5,252.4 1174.6,257.4 1177.1,253.7 1178.8,247.3 1181.4,246.8 1183.9,254.4 1186.4,256.2 1189.0,248.6 1191.5,249.9 1193.5,254.9 1196.5,249.4 1199.1,249.9 1201.6,252.9 1204.9,253.7 1207.9,242.3 1211.7,236.0 1214.2,224.6 1216.3,219.0 1218.5,227.1 1221.8,237.2 1226.1,248.6 1230.2,241.8 1233.2,243.5 1236.2,252.4 1238.8,257.4 1241.6,260.0 1244.6,254.9 1247.1,249.9 1249.6,241.8 1252.9,239.7 1256.0,227.1 1259.0,222.6 1262.3,222.6 1264.8,228.4 1267.3,238.5 1269.9,239.7 1273.7,239.7 1276.7,243.5 1280.0,249.9 1282.5,246.1 1285.8,228.4 1288.8,220.0 1291.4,217.7 1294.4,217.0 1297.7,213.2 1300.2,212.7 1302.0,222.0 1304.5,234.7 1307.8,249.9 1310.3,258.0 1313.6,258.7 1316.6,247.3 1319.7,236.7 1322.2,236.0 1324.7,239.7 1328.0,234.7 1331.3,222.0 1333.8,195.5 1335.6,193.7 1338.1,198.0 1340.7,204.3 1343.2,214.5 1345.7,234.7 1348.3,239.2 1351.5,234.7 1355.8,228.4 1358.4,213.2 1360.0,213.2 1362.0,213.2 1364.6,232.2 1367.6,239.7 1370.6,251.1 1373.9,258.7 1377.2,256.2 1379.7,254.9 1382.8,243.5 1384.5,244.8 1386.5,252.4 1389.8,248.6 1392.4,242.3 1394.9,225.8 1397.2,219.0 1399.2,229.6 1401.7,249.9 1403.5,253.7 1406.0,248.6 1408.5,246.8 1411.1,249.9 1413.6,250.4 1416.9,253.7 1419.4,247.3 1421.2,227.1 1423.2,199.3 1425.2,191.2 1427.0,186.6 1430.3,169.0 1432.1,165.9 1434.6,163.9 1437.1,143.7 1439.6,120.9 1441.4,105.2" fill="none" stroke="#00008b" stroke-width="1.7" stroke-linejoin="round"/>
<line x1="37.5" y1="59" x2="1544.5" y2="59" stroke="#ff0000" stroke-width="2.6" stroke-dasharray="5.06 2.56"/>
<ellipse cx="268" cy="58.4" rx="12.6" ry="10.4" fill="none" stroke="#ff0000" stroke-width="2.5"/>
<ellipse cx="395" cy="56.4" rx="12.7" ry="10.4" fill="none" stroke="#ff0000" stroke-width="2.5"/>
<ellipse cx="575.4" cy="57.9" rx="12.9" ry="10.4" fill="none" stroke="#ff0000" stroke-width="2.5"/>
<ellipse cx="723.9" cy="58.3" rx="12.6" ry="10.4" fill="none" stroke="#ff0000" stroke-width="2.5"/>
<ellipse cx="972.8" cy="60.3" rx="12.8" ry="10.7" fill="none" stroke="#ff0000" stroke-width="2.5"/>
<ellipse cx="1490.7" cy="61.4" rx="12.7" ry="11" fill="none" stroke="#ff0000" stroke-width="2.5"/>
<polygon points="265.9,59.2 263.6,75.6 251.9,68.0" fill="#008000"/>
<polygon points="1527.3,61.2 1525.0,77.6 1513.3,70.0" fill="#008000"/>
<polygon points="522.5,242 532.5,252 527.7,252 527.7,262 517.3,262 517.3,252 512.5,252" fill="#008000"/>
<polygon points="808.2,260 818.2,270 813.4000000000001,270 813.4000000000001,280 803.0,280 803.0,270 798.2,270" fill="#008000"/>
<polygon points="1313.6,262 1323.6,272 1318.8,272 1318.8,282 1308.3999999999999,282 1308.3999999999999,272 1303.6,272" fill="#008000"/>
<polyline points="38.3,729.0 41.3,735.0 43.6,749.2 45.4,723.1 47.8,653.4 49.6,678.6 51.4,678.6 53.7,708.2 55.5,732.6 57.3,715.7 59.1,726.1 60.9,705.3 62.6,743.9 64.4,751.3 66.2,729.0 68.0,726.6 70.4,737.9 72.7,752.8 74.5,777.1 76.3,752.8 77.5,726.1 79.9,726.1 81.0,767.6 83.4,778.0 85.2,782.4 87.0,775.0 88.8,773.5 90.5,794.3 92.3,795.8 94.7,786.9 95.9,804.7 97.7,773.5 100.0,785.4 102.4,792.8 104.2,778.0 106.0,779.5 107.7,770.6 109.5,791.3 110.7,788.4 113.1,806.2 114.9,809.1 116.1,832.9 118.4,834.4 120.2,821.0 122.0,825.5 123.8,821.0 126.1,806.2 127.9,824.0 129.7,841.8 132.1,841.8 133.3,870.0 135.6,877.4 137.4,890.7 139.8,892.2 142.8,904.1 145.1,865.5 146.3,844.7 148.1,841.8 149.9,821.0 151.7,835.8 153.4,841.8 155.8,846.2 158.2,847.7 160.6,849.2 162.3,862.6 164.1,844.7 165.9,829.9 168.3,804.7 170.1,835.8 171.8,850.7 174.2,856.6 176.0,829.9 177.8,815.1 179.6,806.2 181.3,797.3 183.1,767.6 185.5,740.9 186.7,758.7 188.5,782.4 190.8,783.9 192.6,806.2 195.0,825.5 197.4,812.1 199.1,800.2 201.5,815.1 203.9,800.2 206.3,782.4 208.6,794.3 210.4,783.9 213.4,784.5 215.8,785.4 218.1,806.2 220.5,815.1 222.9,800.2 225.3,818.0 227.6,841.8 230.1,824.3 232.3,806.2 234.5,799.0 236.7,809.9 238.8,788.1 241.0,779.1 243.2,751.9 245.4,728.3 247.5,726.5 249.7,737.4 251.9,751.9 253.3,762.8 255.5,737.4 257.7,715.7 259.9,722.9 262.0,701.2 264.2,679.4 266.4,664.9 268.6,650.4 270.7,645.0 272.9,664.9 275.1,679.4 277.2,715.7 279.4,693.9 281.6,679.4 283.0,722.9 284.5,799.0 285.9,751.9 288.1,737.4 290.3,759.1 292.5,722.9 294.6,693.9 296.1,688.5 298.3,715.7 300.4,744.6 303.3,770.7 305.5,755.5 307.7,730.1 309.1,721.1 311.3,737.4 313.5,751.9 315.7,708.4 317.1,679.4 318.6,690.3 320.7,668.6 322.9,674.0 324.3,688.5 325.8,657.0 328.0,679.4 330.1,697.5 332.3,704.8 334.5,708.4 335.9,722.9 337.4,753.7 339.6,741.0 341.7,744.6 343.9,733.8 346.1,737.4 348.3,739.2 350.4,722.9 352.6,704.8 354.8,693.9 357.0,675.8 359.1,663.1 361.3,672.2 363.5,666.7 366.4,690.3 368.6,664.9 370.7,646.8 372.9,635.9 375.1,628.7 377.2,612.4 379.4,608.8 381.6,623.3 384.5,628.7 386.7,614.2 388.8,592.5 391.0,596.1 393.2,574.3 395.4,567.1 397.5,547.2 399.7,550.8 400.0,555.7 402.1,575.1 404.2,566.3 406.3,580.4 408.4,569.8 410.5,601.4 412.7,580.4 414.8,590.9 416.9,576.8 419.0,587.4 421.1,580.4 423.2,575.1 425.3,587.4 426.7,569.8 428.8,597.9 430.9,633.1 433.0,657.7 434.4,675.3 436.6,647.1 438.7,626.0 440.8,636.6 442.2,648.9 444.3,633.1 446.4,622.5 448.5,615.5 450.6,633.1 452.7,647.1 454.8,629.6 456.9,633.1 458.3,605.0 460.5,599.7 462.6,612.0 464.7,605.0 466.8,587.4 469.6,569.8 471.7,583.9 473.8,571.6 475.9,559.3 478.0,550.5 480.8,549.8 483.0,576.8 485.1,590.9 487.9,587.4 490.0,605.0 492.1,612.0 494.2,608.5 496.3,619.0 498.4,597.9 500.5,587.4 502.6,580.4 504.7,578.6 506.9,594.4 508.3,612.0 510.4,608.5 512.5,626.0 514.6,633.1 516.7,654.2 519.5,670.0 521.6,650.7 523.7,633.1 525.8,622.5 527.9,610.2 530.1,612.0 532.2,622.5 534.3,615.5 536.4,619.0 538.5,605.0 540.6,590.9 542.0,583.9 544.1,608.5 546.2,576.8 548.3,555.7 550.4,541.7 553.3,539.9 555.4,562.8 557.5,564.5 559.6,562.8 561.7,541.7 563.8,527.6 565.9,520.6 568.0,510.1 570.1,506.5 570.0,509.0 572.1,495.0 574.2,466.8 576.3,445.7 578.4,442.2 580.5,440.5 582.7,465.1 584.8,459.8 586.9,477.4 589.0,495.0 591.1,473.9 593.2,452.8 595.3,445.7 597.4,435.2 599.5,410.6 601.6,407.1 603.7,424.7 604.4,459.8 606.6,449.3 608.7,477.4 610.8,493.2 612.9,470.4 615.0,449.3 617.1,452.8 619.2,479.1 621.3,456.3 623.4,449.3 625.5,458.0 627.6,442.2 629.8,466.8 631.9,491.4 634.0,500.2 636.8,503.7 638.9,487.9 641.7,477.4 643.8,463.3 645.9,465.1 648.0,477.4 650.1,445.7 652.2,452.8 654.4,459.8 656.5,466.8 658.6,479.1 660.7,477.4 662.8,463.3 664.9,461.6 667.0,452.8 669.1,445.7 670.5,473.9 672.6,482.7 674.7,477.4 676.9,466.8 679.0,445.7 681.1,442.9 683.2,456.3 685.3,459.8 687.4,466.8 689.5,472.1 691.6,459.8 693.7,466.8 695.8,470.4 697.9,445.7 700.1,431.7 702.2,417.6 704.3,438.7 706.4,452.8 708.5,473.9 710.6,489.7 712.7,452.8 714.1,429.9 716.2,410.6 717.6,389.5 720.4,379.0 722.5,371.9 724.7,354.4 726.8,352.6 728.9,356.1 731.0,382.5 733.1,379.0 735.2,389.5 736.6,398.3 740.0,373.4 742.0,343.1 743.5,341.8 745.1,363.3 747.1,357.0 750.1,370.9 752.1,350.7 753.7,335.5 755.7,336.8 757.2,319.1 758.2,384.8 760.2,353.2 761.7,363.3 763.3,360.8 765.3,351.9 766.3,373.4 767.8,391.1 769.8,373.4 771.4,355.7 773.4,351.9 774.9,363.3 776.4,360.8 778.4,377.2 779.9,365.9 782.0,343.1 783.5,349.4 785.0,339.3 787.0,358.3 789.1,386.1 790.6,416.4 791.6,441.7 792.1,467.0 793.6,451.8 795.1,439.2 796.1,437.2 797.1,467.0 798.7,496.1 800.2,472.0 801.7,463.2 802.7,467.0 803.7,510.0 804.2,540.6 806.8,576.0 807.8,616.4 808.3,667.0 808.8,712.0 809.8,661.9 812.8,643.7 814.3,665.7 815.3,631.6 816.4,578.5 817.4,601.3 818.9,632.9 819.9,596.2 820.4,550.7 821.9,535.5 823.9,522.9 825.5,507.2 827.0,536.8 828.5,525.4 829.5,499.6 831.0,505.2 833.0,489.7 835.1,483.4 836.6,480.1 838.1,502.4 837.6,519.8 839.1,517.8 840.6,497.6 841.6,487.2 843.2,470.0 844.7,482.2 846.2,497.3 848.2,509.0 849.2,533.5 850.7,501.4 851.8,515.3 852.8,482.2 854.3,465.7 855.3,468.3 856.8,431.6 858.3,411.9 859.8,424.0 861.4,436.6 862.9,454.3 864.4,450.6 866.4,459.4 868.4,487.2 870.0,451.8 871.5,440.4 873.0,436.6 875.0,439.2 876.5,445.5 878.6,441.7 880.6,401.3 882.1,392.4 883.6,391.6 885.1,393.7 886.6,416.4 887.7,417.7 888.7,391.1 889.7,376.0 891.7,376.5 893.2,419.0 894.7,396.2 896.8,370.9 898.8,359.5 900.8,361.6 902.8,364.6 904.3,386.1 905.4,396.2 906.9,386.1 908.4,393.7 910.4,364.6 911.9,386.1 913.5,411.4 915.5,440.4 917.0,421.5 919.0,408.8 920.5,401.3 921.5,408.8 923.1,387.3 924.6,398.7 926.1,397.5 927.6,408.8 930.0,406.5 931.0,376.2 932.5,386.3 934.0,381.3 935.6,369.9 937.1,381.3 939.1,361.0 940.6,396.4 942.1,381.3 943.7,388.8 945.2,371.1 947.2,357.2 948.7,366.1 950.2,381.3 951.7,378.7 953.3,392.6 954.8,383.8 956.3,388.8 957.8,378.7 959.3,381.3 960.8,371.1 962.4,361.0 964.4,354.7 965.9,356.0 967.4,345.9 968.9,333.2 970.5,324.4 972.5,319.3 974.5,321.8 976.0,334.5 977.5,310.5 979.1,302.9 981.1,301.6 982.6,311.7 984.1,295.3 985.1,285.7 986.6,287.7 988.2,295.3 989.7,290.2 991.2,285.2 992.7,302.9 994.2,315.5 996.2,329.4 998.3,329.4 999.8,316.8 1001.3,321.8 1002.8,309.2 1004.8,307.9 1006.9,310.5 1008.4,319.3 1009.9,320.6 1011.4,307.9 1012.9,296.5 1014.5,280.1 1016.0,297.8 1017.5,286.4 1019.0,289.0 1020.5,310.5 1022.0,330.7 1023.6,338.3 1025.1,320.6 1026.1,315.5 1027.6,325.6 1029.1,335.7 1030.6,347.1 1032.1,340.8 1033.7,324.4 1035.7,310.5 1037.2,297.8 1038.7,295.3 1040.2,310.5 1042.3,335.7 1043.8,320.6 1045.3,310.5 1046.8,300.3 1048.3,291.5 1049.8,289.0 1051.4,297.8 1052.9,323.1 1054.4,357.2 1055.9,356.0 1057.4,335.7 1058.4,334.5 1060.0,357.2 1061.5,316.8 1063.0,314.2 1064.5,309.2 1065.5,307.9 1067.0,352.2 1068.6,326.9 1070.1,328.2 1071.6,330.7 1073.1,359.8 1075.1,366.1 1076.6,358.5 1078.2,350.9 1079.7,343.3 1081.2,325.6 1082.7,328.2 1084.2,329.4 1085.8,337.0 1087.3,340.8 1088.8,330.7 1089.8,329.4 1091.3,343.3 1092.8,371.1 1094.3,373.7 1095.9,374.9 1097.4,388.8 1098.9,399.0 1100.4,396.4 1101.9,401.5 1103.5,400.2 1105.0,421.7 1106.5,431.8 1108.0,439.4 1109.5,419.2 1111.0,405.9 1113.0,404.6 1115.1,402.8 1116.6,418.5 1118.1,418.0 1119.6,418.5 1121.1,431.1 1122.6,441.8 1124.2,433.7 1125.7,432.4 1127.2,416.0 1128.7,410.9 1130.2,393.2 1132.3,390.7 1133.8,367.9 1135.3,343.9 1137.3,339.6 1138.8,346.4 1140.3,345.7 1141.9,357.3 1143.9,357.3 1145.9,367.9 1147.4,366.7 1148.9,380.6 1149.9,398.3 1151.5,380.6 1153.0,390.7 1154.5,405.9 1156.0,402.1 1158.0,410.9 1160.1,408.4 1162.1,404.6 1163.6,404.6 1165.1,413.4 1166.1,432.4 1167.6,431.1 1169.2,429.9 1170.7,451.4 1172.2,469.1 1173.7,476.6 1175.2,478.7 1176.8,476.6 1178.3,469.1 1180.3,471.6 1181.8,491.8 1183.3,519.6 1184.8,550.0 1185.2,560.2 1186.2,574.1 1187.7,557.7 1189.7,553.9 1191.2,572.9 1192.8,593.1 1194.3,559.0 1196.3,562.8 1198.3,575.4 1199.3,613.3 1200.8,623.4 1202.4,637.3 1204.4,623.4 1205.9,600.7 1207.4,582.5 1208.9,594.4 1210.5,605.7 1212.0,565.3 1213.5,547.6 1214.5,545.1 1216.0,560.2 1217.0,571.6 1218.0,574.1 1219.6,600.7 1221.6,603.2 1223.1,609.5 1224.6,626.0 1225.6,636.1 1227.1,610.8 1228.2,595.6 1229.2,585.5 1230.7,613.3 1232.2,613.3 1233.7,612.8 1235.2,636.1 1236.8,638.6 1238.3,658.8 1239.8,663.9 1241.3,658.8 1242.8,648.7 1244.3,637.3 1245.9,636.1 1247.4,620.9 1248.9,613.3 1250.4,619.6 1251.9,613.3 1253.4,593.1 1255.0,576.7 1256.5,574.1 1258.0,585.5 1259.5,583.0 1261.0,562.8 1262.0,580.5 1263.6,595.6 1265.1,608.3 1266.6,610.8 1268.1,622.2 1269.6,613.3 1271.1,610.3 1272.7,618.4 1273.7,627.2 1275.7,628.5 1277.2,632.3 1278.7,643.7 1280.2,633.6 1281.8,615.9 1283.3,598.2 1284.3,589.3 1285.8,583.0 1287.3,575.4 1288.8,570.8 1290.4,576.7 1291.9,586.8 1293.4,581.7 1294.9,577.9 1296.4,586.8 1297.9,577.9 1299.5,576.7 1300.5,577.9 1301.5,598.2 1303.0,618.4 1304.5,637.3 1306.0,643.7 1307.0,651.3 1308.1,671.5 1309.1,679.1 1310.6,680.3 1312.1,684.1 1313.1,689.2 1314.1,743.5 1315.1,722.0 1316.6,711.9 1318.2,701.8 1319.2,696.8 1320.2,723.3 1321.7,715.7 1323.2,720.8 1324.7,720.0 1326.3,724.1 1327.8,714.5 1329.3,698.0 1330.8,681.6 1332.3,669.0 1333.8,675.3 1335.4,670.2 1336.9,677.8 1338.4,680.3 1339.4,693.0 1340.9,681.6 1341.9,699.3 1343.5,727.1 1344.5,739.7 1346.0,719.5 1347.5,722.0 1348.5,728.4 1350.0,725.8 1351.5,714.5 1352.6,710.7 1354.1,714.5 1355.6,701.8 1357.1,698.0 1358.6,690.4 1360.1,701.8 1361.7,711.9 1364.0,726.3 1365.5,733.5 1367.9,734.0 1369.8,748.0 1371.8,765.0 1373.2,779.5 1374.2,796.4 1375.2,825.4 1376.1,849.6 1377.6,864.1 1378.5,872.6 1380.0,844.8 1381.4,823.0 1382.9,837.5 1384.3,859.3 1385.8,877.4 1387.2,876.2 1388.2,849.6 1389.7,856.9 1391.1,848.4 1392.1,825.4 1393.0,797.6 1395.0,795.9 1396.9,795.2 1397.9,815.8 1399.3,844.8 1400.8,871.4 1402.2,877.4 1403.7,879.8 1404.7,859.3 1405.6,839.9 1407.1,854.4 1408.5,873.8 1409.5,881.1 1410.5,856.9 1411.9,876.2 1413.4,861.7 1414.8,888.3 1416.3,905.2 1417.2,911.3 1418.2,883.5 1419.2,854.4 1420.1,825.4 1421.1,786.7 1422.1,768.6 1423.5,767.4 1425.0,752.9 1426.9,732.3 1428.4,721.4 1429.8,709.3 1431.3,728.7 1432.7,721.4 1434.2,714.2 1435.6,690.0 1440.0,612.2 1441.3,628.3" fill="none" stroke="#e00a0a" stroke-width="1.8" stroke-linejoin="round"/>
<line x1="181.3" y1="736.4" x2="220.8" y2="820.5" stroke="#000" stroke-width="2.6"/>
<polygon points="227.3,834.4 213.5,823.9 228.0,817.1" fill="#000"/>
<line x1="266.8" y1="635.8" x2="328.8" y2="741.7" stroke="#000" stroke-width="2.6"/>
<polygon points="336.6,755.0 321.9,745.8 335.7,737.7" fill="#000"/>
<line x1="398.6" y1="543.6" x2="505.1" y2="650.3" stroke="#000" stroke-width="2.6"/>
<polygon points="516.0,661.2 499.5,656.0 510.8,644.6" fill="#000"/>
<line x1="598.4" y1="402.8" x2="695.7" y2="480.1" stroke="#000" stroke-width="2.6"/>
<polygon points="707.8,489.7 690.8,486.4 700.7,473.9" fill="#000"/>
<line x1="754.3" y1="315.9" x2="801.3" y2="688.4" stroke="#000" stroke-width="2.6"/>
<polygon points="803.2,703.7 793.3,689.4 809.2,687.4" fill="#000"/>
<line x1="991.1" y1="281.2" x2="1367.7" y2="858.5" stroke="#000" stroke-width="2.6"/>
<polygon points="1376.1,871.4 1361.0,862.9 1374.4,854.1" fill="#000"/>
<g clip-path="url(#cp)">
<line x1="127.9" y1="898.2" x2="175.5" y2="755.2" stroke="#0000ff" stroke-width="2.6" stroke-dasharray="4.5 2.4"/>
<polygon points="180.1,741.4 182.6,757.5 168.4,752.8" fill="#0000ff"/>
<line x1="147.2" y1="908.5" x2="193.4" y2="765.2" stroke="#0000ff" stroke-width="2.6" stroke-dasharray="4.5 2.4"/>
<polygon points="197.9,751.4 200.6,767.5 186.3,762.9" fill="#0000ff"/>
<line x1="217" y1="806" x2="265.3" y2="659.1" stroke="#0000ff" stroke-width="2.6" stroke-dasharray="4.5 2.4"/>
<polygon points="269.8,645.3 272.4,661.4 258.1,656.7" fill="#0000ff"/>
<line x1="229" y1="840" x2="279.7" y2="684.4" stroke="#0000ff" stroke-width="2.6" stroke-dasharray="4.5 2.4"/>
<polygon points="284.2,670.6 286.8,686.7 272.6,682.1" fill="#0000ff"/>
<line x1="337.3" y1="739.1" x2="389.4" y2="551.2" stroke="#0000ff" stroke-width="2.6" stroke-dasharray="4.5 2.4"/>
<polygon points="393.3,537.2 396.7,553.2 382.2,549.2" fill="#0000ff"/>
<line x1="355.4" y1="756" x2="407.4" y2="567.1" stroke="#0000ff" stroke-width="2.6" stroke-dasharray="4.5 2.4"/>
<polygon points="411.3,553.1 414.7,569.1 400.2,565.1" fill="#0000ff"/>
<line x1="514.2" y1="650.7" x2="584.9" y2="414.7" stroke="#0000ff" stroke-width="2.6" stroke-dasharray="4.5 2.4"/>
<polygon points="589.1,400.8 592.1,416.8 577.8,412.5" fill="#0000ff"/>
<line x1="532.9" y1="666.5" x2="606.7" y2="422.3" stroke="#0000ff" stroke-width="2.6" stroke-dasharray="4.5 2.4"/>
<polygon points="610.9,408.4 613.9,424.4 599.5,420.1" fill="#0000ff"/>
<line x1="680.7" y1="492.1" x2="730.8" y2="326.1" stroke="#0000ff" stroke-width="2.6" stroke-dasharray="4.5 2.4"/>
<polygon points="735.0,312.2 738.0,328.2 723.6,323.9" fill="#0000ff"/>
<line x1="711.3" y1="497.8" x2="763.2" y2="332.7" stroke="#0000ff" stroke-width="2.6" stroke-dasharray="4.5 2.4"/>
<polygon points="767.5,318.9 770.3,335.0 756.0,330.5" fill="#0000ff"/>
<line x1="812.1" y1="703.7" x2="999.8" y2="297.3" stroke="#0000ff" stroke-width="2.6" stroke-dasharray="4.5 2.4"/>
<polygon points="1005.9,284.1 1006.6,300.4 993.0,294.1" fill="#0000ff"/>
<line x1="1386.8" y1="902.8" x2="1536.9" y2="464.1" stroke="#0000ff" stroke-width="2.6" stroke-dasharray="4.5 2.4"/>
<polygon points="1541.6,450.4 1544.0,466.5 1529.8,461.7" fill="#0000ff"/>
</g>
<rect x="180.4" y="699.1" width="23.9" height="30.9" fill="#c4c5ca"/>
<rect x="178.05" y="696.75" width="23.2" height="30.2" fill="#fff" stroke="#858585" stroke-width="1.3"/>
<text x="181.0" y="718.6" font-family="Liberation Sans, sans-serif" font-weight="bold" font-size="17.2" fill="#0000ff">1</text>
<rect x="259.3" y="600.0" width="26.2" height="30.4" fill="#c4c5ca"/>
<rect x="256.95" y="597.65" width="25.5" height="29.7" fill="#fff" stroke="#858585" stroke-width="1.3"/>
<text x="259.9" y="619.5" font-family="Liberation Sans, sans-serif" font-weight="bold" font-size="17.2" fill="#0000ff">2</text>
<rect x="392.2" y="504.2" width="26.1" height="30.9" fill="#c4c5ca"/>
<rect x="389.85" y="501.85" width="25.4" height="30.2" fill="#fff" stroke="#858585" stroke-width="1.3"/>
<text x="392.8" y="523.7" font-family="Liberation Sans, sans-serif" font-weight="bold" font-size="17.2" fill="#0000ff">3</text>
<rect x="588.1" y="359.7" width="26.6" height="30.2" fill="#c4c5ca"/>
<rect x="585.75" y="357.35" width="25.9" height="29.5" fill="#fff" stroke="#858585" stroke-width="1.3"/>
<text x="588.7" y="379.2" font-family="Liberation Sans, sans-serif" font-weight="bold" font-size="17.2" fill="#0000ff">4</text>
<rect x="739.4" y="276.2" width="26.6" height="29.8" fill="#c4c5ca"/>
<rect x="737.05" y="273.85" width="25.9" height="29.1" fill="#fff" stroke="#858585" stroke-width="1.3"/>
<text x="740.0" y="295.7" font-family="Liberation Sans, sans-serif" font-weight="bold" font-size="17.2" fill="#0000ff">5</text>
<rect x="1008.3" y="234.4" width="25.6" height="30.2" fill="#c4c5ca"/>
<rect x="1005.95" y="232.05" width="24.9" height="29.5" fill="#fff" stroke="#858585" stroke-width="1.3"/>
<text x="1008.9" y="253.9" font-family="Liberation Sans, sans-serif" font-weight="bold" font-size="17.2" fill="#0000ff">6</text>
<rect x="1441.4" y="254.1" width="38.6" height="30.4" fill="#c4c5ca"/>
<rect x="1439.05" y="251.75" width="37.9" height="29.7" fill="#fff" stroke="#858585" stroke-width="1.3"/>
<text x="1442.0" y="273.6" font-family="Liberation Sans, sans-serif" font-weight="bold" font-size="17.2" fill="#0000ff">7?</text>
<rect x="1210.3" y="878.2" width="138.9" height="27.7" fill="#c4c5ca"/>
<rect x="1207.95" y="875.85" width="138.2" height="27.0" fill="#fff" stroke="#858585" stroke-width="1.3"/>
<text id="sa" x="1210.9" y="894.9" font-family="Liberation Sans, sans-serif" font-weight="bold" font-size="16" textLength="118.3" lengthAdjust="spacingAndGlyphs" fill="#008000">Simone Alberizzi</text>
</svg>
<div class="t" id="sym" style="left:37.3px;top:10.3px;font-size:17px;font-weight:bold;letter-spacing:-0.6px">$XAU</div>
<div class="t" id="nm" style="left:85px;top:12.4px;font-size:13.3px">Gold &amp; Silver Index - Philadelphia</div>
<div class="t" id="indx" style="left:291px;top:14px;font-size:11px;letter-spacing:.8px">INDX</div>
<div class="t" id="dt" style="left:37px;top:28.5px;font-size:13px;letter-spacing:.1px">6-May-2016</div>
<div class="t" id="sc" style="right:36px;top:13px;font-size:13px;color:#555;letter-spacing:.3px">&#169;StockCharts.com</div>
<div class="t o b" id="o1" style="left:1094px">Open</div><div class="t o v" id="v1" style="left:1134.2px">93.28</div>
<div class="t o b" id="o2" style="left:1175.7px">High</div><div class="t o v" id="v2" style="left:1210.5px">93.66</div>
<div class="t o b" id="o3" style="left:1252.3px">Low</div><div class="t o v" id="v3" style="left:1286.1px">82.70</div>
<div class="t o b" id="o4" style="left:1328.8px">Close</div><div class="t o v" id="v4" style="left:1373.2px">88.53</div>
<div class="t o b" id="o5" style="left:1415.2px">Chg</div><div class="t o v" id="v5" style="left:1446.8px">-4.32 (-4.65%)</div>
<svg width="1580" height="910" viewBox="0 0 1580 910" style="position:absolute;left:0;top:0;pointer-events:none"><rect x="1446.6" y="41.6" width="88" height="41.8" fill="none" stroke="#0000ff" stroke-width="4.8" stroke-linejoin="round"/></svg>
<div style="position:absolute;left:1535.5px;top:33.5px;width:0;height:0;border-left:4px solid transparent;border-right:4px solid transparent;border-top:5px solid #3c5a96"></div>
<div style="position:absolute;left:41px;top:50.5px;width:11px;height:2.5px;background:#00008b"></div>
<div style="position:absolute;left:41px;top:277px;width:11px;height:2.5px;background:#e00000"></div>

<div class="ax" style="top:84.8px;left:1548.6px;right:auto;text-align:left;font-size:13px">80</div><div class="ax" style="top:147.8px;left:1548.6px;right:auto;text-align:left;font-size:13px">50</div><div class="ax" style="top:210.8px;left:1548.6px;right:auto;text-align:left;font-size:13px">20</div><div class="ax" style="top:269.6px">230</div><div class="ax" style="top:285.9px">220</div><div class="ax" style="top:303.0px">210</div><div class="ax" style="top:321.0px">200</div><div class="ax" style="top:339.8px">190</div><div class="ax" style="top:359.7px">180</div><div class="ax" style="top:380.7px">170</div><div class="ax" style="top:403.0px">160</div><div class="ax" style="top:426.8px">150</div><div class="ax" style="top:452.1px">140</div><div class="ax" style="top:479.4px">130</div><div class="ax" style="top:508.8px">120</div><div class="ax" style="top:540.8px">110</div><div class="ax" style="top:575.9px">100</div><div class="ax" style="top:614.7px">90</div><div class="ax" style="top:658.0px">80</div><div class="ax" style="top:707.1px">70</div><div class="ax" style="top:763.8px">60</div><div class="ax" style="top:830.8px">50</div>
</div></body></html>
